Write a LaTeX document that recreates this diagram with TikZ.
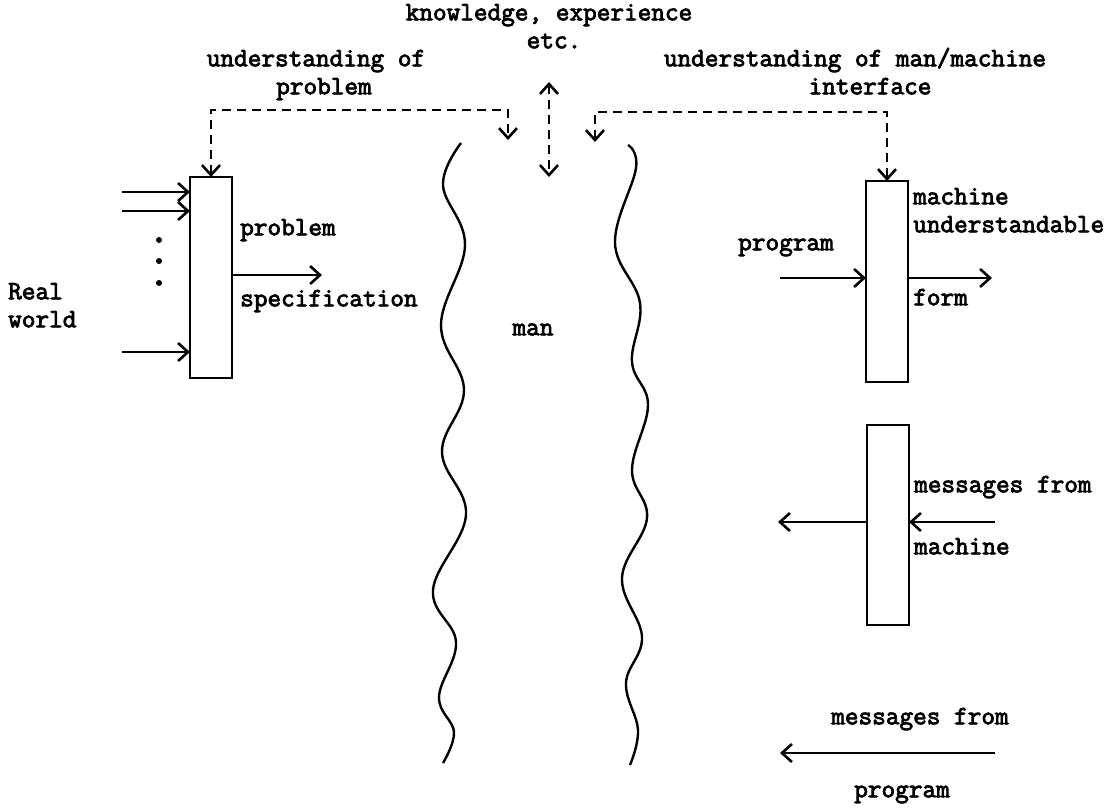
\documentclass[tikz,border=0pt]{standalone}
\usepackage{fontspec}
\newfontfamily\tw{Latin Modern Mono}[FakeBold=3]
\usetikzlibrary{arrows.meta}
\begin{document}
\begin{tikzpicture}[x=1pt,y=-1pt,
  lbl/.style={font=\tw\fontsize{26.5}{30}\selectfont, inner sep=0pt, text height=0.45em, text depth=0pt},
  lblw/.style={lbl, anchor=west},
  blk/.style={draw, line width=2.6pt, inner sep=0pt, outer sep=0pt, minimum width=42pt, minimum height=201pt, anchor=north west},
  tip/.tip={Straight Barb[length=10pt,width=18pt,line width=2.6pt]},
  arr/.style={line width=2.6pt, -tip},
  dsh/.style={line width=2.6pt, dash pattern=on 9pt off 6pt, tip-tip},
  wave/.style={line width=2.4pt}]
\useasboundingbox (0,0) rectangle (1117,807);

% top texts
\node[lbl] (kn) at (549,18) {knowledge, experience};
\node[lbl] (etc) at (554,46) {etc.};
\node[lbl] (up1) at (316,64) {understanding of};
\node[lbl] (up2) at (324,92) {problem};
\node[lbl] (ui1) at (855,64) {understanding of man/machine};
\node[lbl] (ui2) at (870,92) {interface};

% boxes
\node[blk] (pb) at (190,177) {};
\node[blk] (mb) at (866,181) {};
\node[blk, minimum height=200pt] (fb) at (867,425) {};

% left box
\node[lblw] (rw1) at (8,297) {Real};
\node[lblw] (rw2) at (8,325) {world};
\coordinate (i1) at (122,192);
\coordinate (i2) at (122,211);
\coordinate (i3) at (122,352);
\draw[arr] (i1) -- (i1 -| pb.west);
\draw[arr] (i2) -- (i2 -| pb.west);
\draw[arr] (i3) -- (i3 -| pb.west);
\foreach \yy in {240,261,283} \fill (159,\yy) circle (3pt);
\coordinate (ps) at (322,275);
\draw[arr] (ps -| pb.east) -- (ps);
\node[lblw] (pl1) at (240,233) {problem};
\node[lblw] (pl2) at (240,304) {specification};

% man
\node[lbl] (man) at (533,333) {man};
\draw[wave] plot[smooth, tension=0.65] coordinates {(461,143) (443,185) (465,245) (441,325) (464,390) (442,452) (466,515) (433,590) (456,642) (439,697) (454,732) (443,763)};
\draw[wave] plot[smooth, tension=0.65] coordinates {(628,145) (636,168) (615,243) (640,303) (632,362) (648,405) (632,470) (647,518) (622,578) (642,637) (626,683) (638,730) (630,765)};

% dashed connectors
\coordinate (mL) at (508,140);
\draw[dsh] (pb.north) |- (mL |- 0,110) -- (mL);
\coordinate (kt) at (549,82);
\coordinate (kb) at (549,177);
\draw[dsh] (kt) -- (kb);
\coordinate (mR) at (595,142);
\draw[dsh] (mR) |- (mb.north |- 0,112) -- (mb.north);

% right upper box
\node[lbl] (pg) at (786,248) {program};
\coordinate (pin) at (780,278);
\coordinate (pout) at (992,278);
\draw[arr] (pin) -- (pin -| mb.west);
\draw[arr] (pout -| mb.east) -- (pout);
\node[lblw] (mu1) at (913,202) {machine};
\node[lblw] (mu2) at (913,230) {understandable};
\node[lblw] (mu3) at (913,303) {form};

% right lower box
\node[lblw] (mf1) at (914,490) {messages from};
\node[lblw] (mf2) at (914,552) {machine};
\coordinate (fin) at (995,522);
\coordinate (fout) at (778,522);
\draw[arr] (fin) -- (fin -| fb.east);
\draw[arr] (fout -| fb.west) -- (fout);

% bottom
\node[lbl] (mp1) at (920,722) {messages from};
\coordinate (bs) at (995,753);
\coordinate (be) at (780,753);
\draw[arr] (bs) -- (be);
\node[lbl] (mp2) at (902,795) {program};
\end{tikzpicture}
\end{document}
